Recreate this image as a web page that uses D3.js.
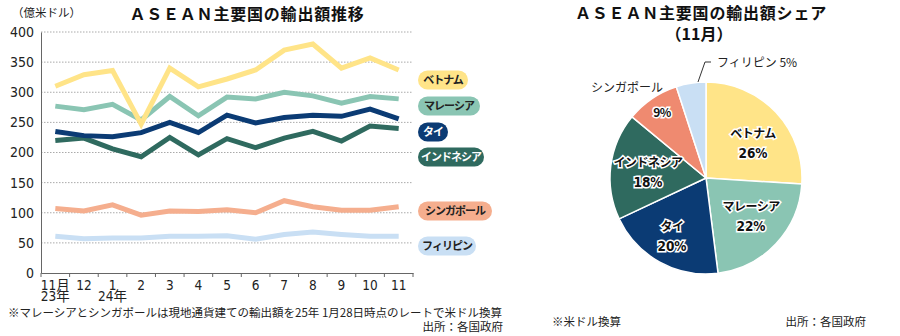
<!DOCTYPE html>
<html>
<head>
<meta charset="utf-8">
<script src="https://cdn.jsdelivr.net/npm/d3@7"></script>
<style>
body { margin: 0; background: #fff; }
svg { display: block; font-family: "Noto Sans CJK JP", sans-serif; }
.num { font-family: "Liberation Sans Narrow", "DejaVu Sans Condensed", "Noto Sans CJK JP", sans-serif; }
</style>
</head>
<body>
<svg id="chart" width="900" height="336"></svg>
<script>
"use strict";

//
// Data
//
var months = ["11", "12", "1", "2", "3", "4", "5", "6", "7", "8", "9", "10", "11b"];
var monthLabels = ["11月", "12", "1", "2", "3", "4", "5", "6", "7", "8", "9", "10", "11"];
var yearLabels = ["23年", "", "24年", "", "", "", "", "", "", "", "", "", ""];

var vietnam = [310, 329, 336, 247, 340, 309, 322, 337, 370, 380, 340, 357, 337];
var malaysia = [277, 271, 280, 254, 293, 261, 292, 289, 300, 294, 282, 293, 289];
var thailand = [235, 228, 226, 233, 250, 233, 262, 249, 258, 262, 260, 272, 256];
var indonesia = [220, 224, 206, 193, 225, 196, 223, 208, 224, 235, 219, 244, 240];
var singapore = [107, 103, 113, 96, 103, 102, 105, 100, 120, 110, 104, 104, 110];
var philippines = [61, 57, 58, 58, 61, 61, 62, 56, 64, 68, 64, 61, 61];

var yTicks = [0, 50, 100, 150, 200, 250, 300, 350, 400];

var countries = ["ベトナム", "マレーシア", "タイ", "インドネシア", "シンガポール", "フィリピン"];
var shares = [26, 22, 20, 18, 9, 5];

var lineColors = ["#ffe488", "#8ac5b3", "#0b3b74", "#2f6a5f", "#f5ae8e", "#c9dff4"];
var pieColors = ["#ffe488", "#8ac5b3", "#0b3b74", "#2f6a5f", "#ef8a70", "#c9dff4"];
var pillText = ["#222", "#222", "#fff", "#fff", "#222", "#222"];
var pillY = [80, 106, 132, 157, 211, 246];
var pillW = [50, 62, 30, 66, 74, 58];

var series = [vietnam, malaysia, thailand, indonesia, singapore, philippines];

var svg = d3.select("#chart");

//
// Line chart
//
var x = d3.scaleBand().domain(months).range([41, 413]).padding(0);
var y = d3.scaleLinear().domain([0, 400]).range([273, 32]);
var cx = function(i) { return x(months[i]) + x.bandwidth() / 2; };

svg.append("text")
	.attr("x", 12).attr("y", 17)
	.attr("font-size", 11.5).attr("fill", "#222")
	.text("（億米ドル）");

svg.append("text")
	.attr("x", 247).attr("y", 20)
	.attr("text-anchor", "middle")
	.attr("font-size", 16).attr("letter-spacing", 0.8)
	.attr("font-weight", "bold").attr("fill", "#111")
	.text("ＡＳＥＡＮ主要国の輸出額推移");

// grid
svg.append("g")
	.selectAll("line")
	.data(yTicks.filter(function(d) { return d > 0; }))
	.enter().append("line")
	.attr("x1", 41).attr("x2", 413)
	.attr("y1", function(d) { return y(d); })
	.attr("y2", function(d) { return y(d); })
	.attr("stroke", "#aaa")
	.attr("stroke-width", 1)
	.attr("stroke-dasharray", "1.5,1.5");

// y axis
var yAxis = svg.append("g")
	.attr("transform", "translate(41,0)")
	.call(d3.axisLeft(y).tickValues(yTicks).tickSize(0).tickPadding(7));
yAxis.select(".domain").attr("stroke", "#666");
yAxis.selectAll("text")
	.attr("class", "num")
	.attr("font-size", 14).attr("fill", "#222");

// x axis
var xAxis = svg.append("g")
	.attr("transform", "translate(0,273)")
	.call(d3.axisBottom(x).tickValues([]).tickSizeOuter(0));
xAxis.select(".domain").attr("stroke", "#666");
xAxis.selectAll(".edge")
	.data(months.concat(["end"]))
	.enter().append("line")
	.attr("x1", function(d, i) { return 41 + i * x.bandwidth(); })
	.attr("x2", function(d, i) { return 41 + i * x.bandwidth(); })
	.attr("y1", 0).attr("y2", 4)
	.attr("stroke", "#666");
var xLabels = xAxis.selectAll(".m")
	.data(months)
	.enter().append("text")
	.attr("class", "num")
	.attr("text-anchor", "middle")
	.attr("font-size", 13.5).attr("fill", "#222");
xLabels.append("tspan")
	.attr("x", function(d, i) { return cx(i); })
	.attr("y", 16.5)
	.text(function(d, i) { return monthLabels[i]; });
xLabels.filter(function(d, i) { return yearLabels[i] !== ""; })
	.append("tspan")
	.attr("x", function(d) { return cx(months.indexOf(d)); })
	.attr("y", 28)
	.text(function(d) { return yearLabels[months.indexOf(d)]; });

// lines
var line = d3.line()
	.x(function(d, i) { return cx(i); })
	.y(function(d) { return y(d); });

svg.append("g")
	.selectAll("path")
	.data(series.slice().reverse())
	.enter().append("path")
	.attr("d", line)
	.attr("fill", "none")
	.attr("stroke", function(d, i) { return lineColors[series.length - 1 - i]; })
	.attr("stroke-width", 5)
	.attr("stroke-linejoin", "miter");

// pill labels
var pills = svg.append("g")
	.selectAll("g")
	.data(countries)
	.enter().append("g")
	.attr("transform", function(d, i) { return "translate(418," + pillY[i] + ")"; });
pills.append("rect")
	.attr("x", 0).attr("y", -9.5)
	.attr("width", function(d, i) { return pillW[i]; })
	.attr("height", 19)
	.attr("rx", 9.5)
	.attr("fill", function(d, i) { return lineColors[i]; });
pills.append("text")
	.attr("x", function(d, i) { return pillW[i] / 2; })
	.attr("y", 4)
	.attr("text-anchor", "middle")
	.attr("font-size", 11).attr("letter-spacing", -1)
	.attr("font-weight", "bold")
	.attr("fill", function(d, i) { return pillText[i]; })
	.text(function(d) { return d; });

svg.append("text")
	.attr("x", 8).attr("y", 317)
	.attr("font-size", 11.5).attr("fill", "#222")
	.text("※マレーシアとシンガポールは現地通貨建ての輸出額を25年 1月28日時点のレートで米ドル換算");
svg.append("text")
	.attr("x", 503).attr("y", 331)
	.attr("text-anchor", "end")
	.attr("font-size", 11.5).attr("fill", "#222")
	.text("出所：各国政府");

//
// Pie chart
//
svg.append("text")
	.attr("x", 701).attr("y", 19)
	.attr("text-anchor", "middle")
	.attr("font-size", 16).attr("letter-spacing", 0.8)
	.attr("font-weight", "bold").attr("fill", "#111")
	.text("ＡＳＥＡＮ主要国の輸出額シェア");
svg.append("text")
	.attr("x", 699).attr("y", 40)
	.attr("text-anchor", "middle")
	.attr("font-size", 16).attr("font-weight", "bold").attr("fill", "#111")
	.text("（11月）");

var pieG = svg.append("g").attr("transform", "translate(706,178)");
var pie = d3.pie().sort(null).value(function(d) { return d; });
var arc = d3.arc().innerRadius(0).outerRadius(96);
var arcs = pie(shares);

pieG.selectAll("path")
	.data(arcs)
	.enter().append("path")
	.attr("d", arc)
	.attr("fill", function(d, i) { return pieColors[i]; })
	.attr("stroke", "#fff")
	.attr("stroke-width", 1.5);

var labelPos = [[47, -44], [45, 29], [-34, 49], [-58, -15], [-44, -65]];
var inside = pieG.selectAll(".lab")
	.data(labelPos)
	.enter().append("g")
	.attr("transform", function(d) { return "translate(" + d[0] + "," + d[1] + ")"; });
inside.append("text")
	.attr("text-anchor", "middle")
	.attr("y", 4)
	.attr("font-size", 12).attr("font-weight", "bold")
	.attr("letter-spacing", -0.5)
	.attr("fill", "#111")
	.attr("stroke", "#fff").attr("stroke-width", 3).attr("paint-order", "stroke")
	.text(function(d, i) { return i === 4 ? shares[i] + "%" : countries[i]; });
inside.filter(function(d, i) { return i < 4; })
	.append("text")
	.attr("class", "num")
	.attr("text-anchor", "middle")
	.attr("y", 24)
	.attr("font-size", 13.5).attr("font-weight", "bold")
	.attr("fill", "#111")
	.attr("stroke", "#fff").attr("stroke-width", 3).attr("paint-order", "stroke")
	.text(function(d, i) { return shares[i] + "%"; });

svg.append("text")
	.attr("x", 627).attr("y", 92)
	.attr("text-anchor", "middle")
	.attr("font-size", 12).attr("fill", "#222")
	.text(countries[4]);

svg.append("path")
	.attr("d", "M698,82L705,62L711,62")
	.attr("fill", "none").attr("stroke", "#333").attr("stroke-width", 1);
svg.append("text")
	.attr("x", 717).attr("y", 67)
	.attr("font-size", 12).attr("fill", "#222")
	.text(countries[5] + " " + shares[5] + "%");

svg.append("text")
	.attr("x", 552).attr("y", 326)
	.attr("font-size", 11.5).attr("fill", "#222")
	.text("※米ドル換算");
svg.append("text")
	.attr("x", 866).attr("y", 326)
	.attr("text-anchor", "end")
	.attr("font-size", 11.5).attr("fill", "#222")
	.text("出所：各国政府");
</script>
</body>
</html>
